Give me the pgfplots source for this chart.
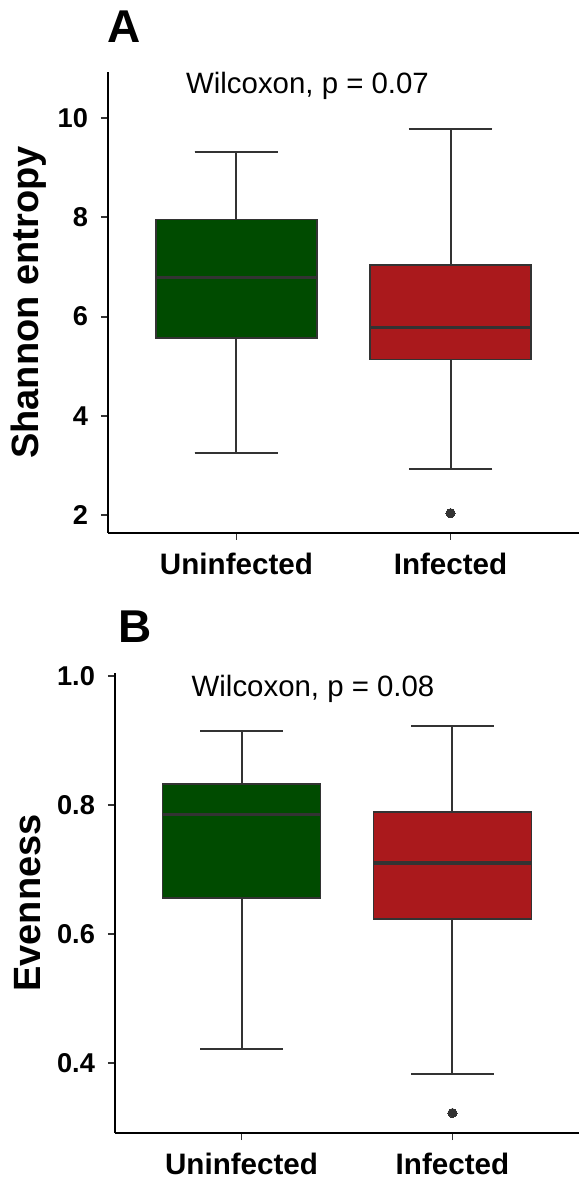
\documentclass[border=0pt]{standalone}
\usepackage{fontspec}
\setmainfont{Liberation Sans}
\usepackage{pgfplots}
\pgfplotsset{compat=1.18}
\usepgfplotslibrary{statistics}
\definecolor{ugreen}{RGB}{0,75,0}
\definecolor{ired}{RGB}{170,25,28}
\definecolor{edge}{RGB}{51,51,51}
\pgfplotsset{
 panel/.style={
  scale only axis, axis lines*=left, axis line style={line width=1.3pt,black,-},
  tick align=outside, major tick length=3.5pt, tick style={edge, line width=0.9pt},
  xmin=0.4, xmax=2.6, xtick={1,2}, xticklabels={Uninfected,Infected},
  /pgf/number format/assume math mode=true,
  yticklabel style={font=\fontsize{13.6}{15}\selectfont\bfseries, xshift=-3pt},
  xticklabel style={font=\fontsize{14.8}{17}\selectfont\bfseries, yshift=-3pt},
  clip=false,
  boxplot/draw direction=y,
 },
 bx/.style={draw=edge, line width=0.9pt,
   boxplot/draw direction=y,
   boxplot/every box/.style={line width=0.8pt},
   boxplot/every whisker/.style={line width=1pt},
   boxplot/every median/.style={line width=1.9pt},
   mark=*, mark size=2.3pt, mark options={fill=edge, draw=edge, line width=0pt}},
}
\begin{document}
\begin{tikzpicture}
% Panel A
\begin{axis}[panel, at={(54pt,323.5pt)}, anchor=south west,
  width=235.5pt, height=230.5pt, ymin=1.64, ymax=10.93,
  ytick={2,4,6,8,10},
  every axis y label/.style={at={(axis description cs:-0.1476,0.5)}, rotate=90, anchor=base,
    font=\fontsize{19}{22}\selectfont\bfseries},
  ylabel={Shannon entropy}]
\addplot[bx, fill=ugreen, boxplot prepared={draw direction=y, draw position=1, lower whisker=3.26, lower quartile=5.57,
  median=6.79, upper quartile=7.96, upper whisker=9.32, box extend=0.75, whisker extend=0.39}]
  coordinates {};
\addplot[bx, fill=ired, boxplot prepared={draw direction=y, draw position=2, lower whisker=2.92, lower quartile=5.14,
  median=5.78, upper quartile=7.04, upper whisker=9.79, box extend=0.75, whisker extend=0.39}]
  table[row sep=\\, y index=0] {data\\ 2.04\\};
\node[anchor=base, font=\fontsize{14.7}{17}\selectfont] at (axis cs:1.332,10.5) {Wilcoxon, p = 0.07};
\end{axis}
% Panel B
\begin{axis}[panel, at={(57.5pt,23.5pt)}, anchor=south west,
  width=232pt, height=230pt, ymin=0.291, ymax=1.005,
  ytick={0.4,0.6,0.8,1.0},
  yticklabel style={/pgf/number format/.cd, fixed, fixed zerofill, precision=1},
  every axis y label/.style={at={(axis description cs:-0.1595,0.5)}, rotate=90, anchor=base,
    font=\fontsize{19}{22}\selectfont\bfseries},
  ylabel={Evenness}]
\addplot[bx, fill=ugreen, boxplot prepared={draw direction=y, draw position=1, lower whisker=0.421, lower quartile=0.656,
  median=0.7855, upper quartile=0.8325, upper whisker=0.915, box extend=0.75, whisker extend=0.39}]
  coordinates {};
\addplot[bx, fill=ired, boxplot prepared={draw direction=y, draw position=2, lower whisker=0.382, lower quartile=0.623,
  median=0.710, upper quartile=0.789, upper whisker=0.923, box extend=0.75, whisker extend=0.39}]
  table[row sep=\\, y index=0] {data\\ 0.322\\};
\node[anchor=base, font=\fontsize{14.7}{17}\selectfont] at (axis cs:1.339,0.969) {Wilcoxon, p = 0.08};
\end{axis}
\node[anchor=base west, inner sep=0pt, font=\fontsize{23}{26}\selectfont\bfseries] at (53.5pt,568.5pt) {A};
\node[anchor=base west, inner sep=0pt, font=\fontsize{23}{26}\selectfont\bfseries] at (59pt,268.5pt) {B};
\pgfresetboundingbox
\path (0pt,0pt) rectangle (289.5pt,590pt);
\end{tikzpicture}
\end{document}
